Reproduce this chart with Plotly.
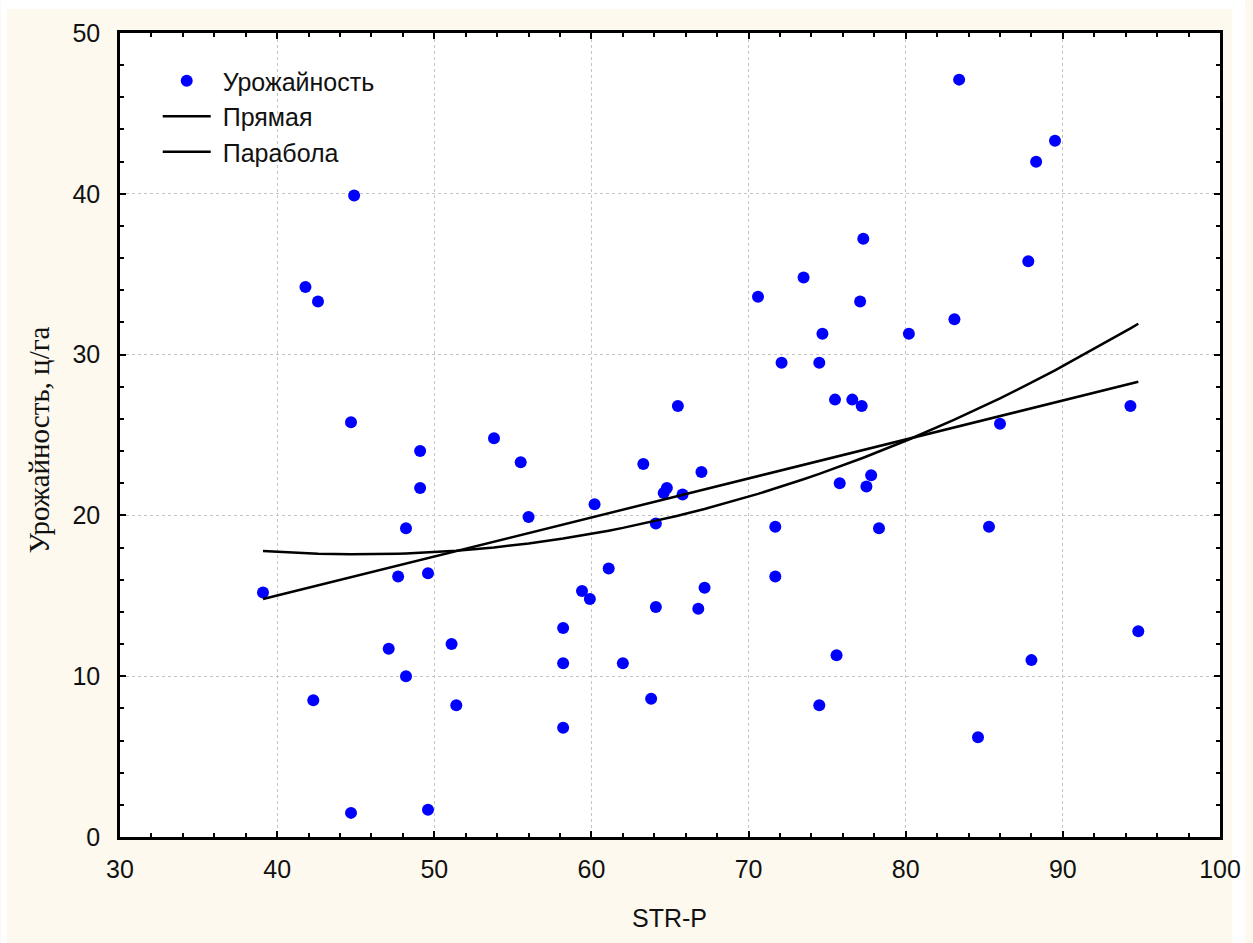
import numpy as np
import plotly.graph_objects as go

# STR-P values and yield (ц/га) per observation
str_p = [39.1, 41.8, 42.6, 42.3, 44.9, 44.7, 44.7, 47.1, 47.7, 48.2,
         48.2, 49.1, 49.1, 49.6, 49.6, 51.1, 51.4, 53.8, 55.5, 56.0,
         58.2, 58.2, 58.2, 59.4, 59.9, 60.2, 61.1, 62.0, 63.3, 63.8,
         64.1, 64.1, 64.6, 64.8, 65.5, 65.8, 66.8, 67.0, 67.2, 70.6,
         71.7, 71.7, 72.1, 73.5, 74.5, 74.7, 74.5, 75.5, 75.6, 75.8,
         76.6, 77.2, 77.1, 77.3, 77.5, 77.8, 78.3, 80.2, 83.1, 83.4,
         84.6, 85.3, 86.0, 87.8, 88.0, 88.3, 89.5, 94.3, 94.8]
yield_c = [15.2, 34.2, 33.3, 8.5, 39.9, 25.8, 1.5, 11.7, 16.2, 19.2,
           10.0, 24.0, 21.7, 16.4, 1.7, 12.0, 8.2, 24.8, 23.3, 19.9,
           13.0, 10.8, 6.8, 15.3, 14.8, 20.7, 16.7, 10.8, 23.2, 8.6,
           19.5, 14.3, 21.4, 21.7, 26.8, 21.3, 14.2, 22.7, 15.5, 33.6,
           19.3, 16.2, 29.5, 34.8, 29.5, 31.3, 8.2, 27.2, 11.3, 22.0,
           27.2, 26.8, 33.3, 37.2, 21.8, 22.5, 19.2, 31.3, 32.2, 47.1,
           6.2, 19.3, 25.7, 35.8, 11.0, 42.0, 43.3, 26.8, 12.8]

x_ticks = [30, 40, 50, 60, 70, 80, 90, 100]
y_ticks = [0, 10, 20, 30, 40, 50]

# least-squares fits evaluated at the observed STR-P values
xs = np.array(sorted(set(str_p)))
lin = np.polyval(np.polyfit(str_p, yield_c, 1), xs)
par = np.polyval(np.polyfit(str_p, yield_c, 2), xs)

CREAM = "#FEF9EE"
SANS = "Liberation Sans, Arial, sans-serif"
SERIF = "Liberation Serif, Times New Roman, serif"
NB = "\u00a0"

fig = go.Figure()
fig.add_trace(go.Scatter(
    x=str_p, y=yield_c, mode="markers", name=NB + "Урожайность",
    legendgroup="a",
    marker=dict(color="#0000FF", size=12, line=dict(width=0)),
))
fig.add_trace(go.Scatter(
    x=xs, y=lin, mode="lines", name=NB + "Прямая", legendgroup="b",
    line=dict(color="black", width=2.5),
))
fig.add_trace(go.Scatter(
    x=xs, y=par, mode="lines", name=NB + "Парабола", legendgroup="c",
    line=dict(color="black", width=2.5),
))

axis_common = dict(
    showline=True, linecolor="black", linewidth=2.5, mirror="allticks",
    ticks="inside", ticklen=6, tickwidth=2, tickcolor="black",
    showgrid=True, gridcolor="#c4c4c4", gridwidth=1, griddash="3px,3px",
    zeroline=False, tickfont=dict(family=SANS, size=25, color="#111111"),
)

fig.update_xaxes(
    range=[30, 100], tickvals=x_ticks, ticklabelstandoff=8,
    minor=dict(ticks="inside", ticklen=4, tickwidth=2, tickcolor="black",
               dtick=2, showgrid=False),
    **axis_common,
)
fig.update_yaxes(
    range=[0, 50], tickvals=y_ticks, ticklabelstandoff=12,
    minor=dict(ticks="inside", ticklen=4, tickwidth=2, tickcolor="black",
               dtick=2, showgrid=False),
    **axis_common,
)

def px_x(p):
    return (p - 120) / 1108

def px_y(p):
    return (837 - p) / 804

# white frame around the cream page area
frame = [
    (0, 0, 1253, 9),
    (0, 0, 6, 943),
    (1240, 0, 1253, 943),
]
shapes = [
    dict(type="rect", xref="paper", yref="paper",
         x0=px_x(a), x1=px_x(c), y0=px_y(d), y1=px_y(b),
         fillcolor="white", line=dict(width=0), layer="below")
    for a, b, c, d in frame
]

fig.update_layout(
    width=1253, height=943,
    margin=dict(l=120, r=25, t=33, b=106),
    paper_bgcolor=CREAM, plot_bgcolor="white",
    shapes=shapes,
    showlegend=True,
    legend=dict(
        x=px_x(158), y=px_y(58), xanchor="left", yanchor="top",
        bgcolor="rgba(0,0,0,0)", borderwidth=0,
        font=dict(family=SANS, size=25, color="#111111"),
        traceorder="grouped", tracegroupgap=0, itemwidth=48,
    ),
    annotations=[
        dict(text="STR-P", xref="paper", yref="paper",
             x=px_x(673), y=px_y(918), showarrow=False,
             xanchor="center", yanchor="middle",
             font=dict(family=SANS, size=25, color="#111111")),
        dict(text="Урожайность, ц/га", xref="paper", yref="paper",
             x=px_x(38), y=px_y(440), showarrow=False, textangle=-90,
             xanchor="center", yanchor="middle",
             font=dict(family=SERIF, size=29, color="#111111")),
    ],
)

fig.write_html("out.html")
